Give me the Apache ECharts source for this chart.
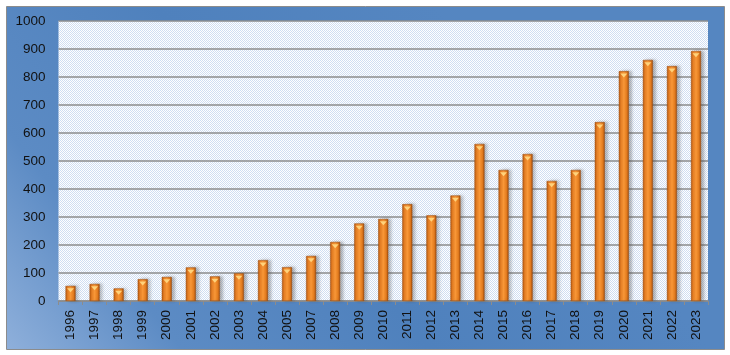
<!DOCTYPE html>
<html>
<head>
<meta charset="utf-8">
<script src="https://cdn.jsdelivr.net/npm/echarts@6/dist/echarts.min.js"></script>
<style>
html,body{margin:0;padding:0;background:#ffffff;}
#chart{width:730px;height:355px;}
</style>
</head>
<body>
<div id="chart"></div>
<script>
const years = ['1996','1997','1998','1999','2000','2001','2002','2003','2004','2005','2007','2008','2009','2010','2011','2012','2013','2014','2015','2016','2017','2018','2019','2020','2021','2022','2023'];
const values = [54, 61, 45, 78, 86, 120, 88, 99, 146, 121, 161, 211, 277, 293, 346, 306, 377, 561, 468, 525, 429, 468, 639, 821, 861, 839, 893];
const yTicks = [0, 100, 200, 300, 400, 500, 600, 700, 800, 900, 1000];

// dotted plot-area pattern
const tile = document.createElement('canvas');
tile.width = 2; tile.height = 2;
const tctx = tile.getContext('2d');
tctx.fillStyle = '#ffffff'; tctx.fillRect(0, 0, 2, 2);
tctx.fillStyle = '#d0def2';
tctx.fillRect(0, 0, 1, 1); tctx.fillRect(1, 1, 1, 1);

const chart = echarts.init(document.getElementById('chart'), null, {renderer: 'canvas'});
const barGrad = new echarts.graphic.LinearGradient(0, 0, 1, 0, [
  {offset: 0, color: '#b85a12'},
  {offset: 0.25, color: '#f08526'},
  {offset: 0.5, color: '#fd9a38'},
  {offset: 0.8, color: '#e07a1e'},
  {offset: 1, color: '#a24c0c'}
]);

chart.setOption({
  animation: false,
  backgroundColor: '#ffffff',
  graphic: [
    {
      type: 'rect', z: -100, silent: true,
      shape: {x: 6.5, y: 6.5, width: 718, height: 343},
      style: {
        fill: new echarts.graphic.LinearGradient(0, 1, 0.6, 0, [
          {offset: 0, color: '#8fb0db'},
          {offset: 0.25, color: '#5c8bc4'},
          {offset: 0.6, color: '#4f81bd'},
          {offset: 1, color: '#5586c1'}
        ]),
        stroke: '#8c8c8c', lineWidth: 1
      }
    }
  ],
  grid: {
    left: 58.5, right: 22, top: 21, bottom: 54,
    show: true,
    backgroundColor: {image: tile, repeat: 'repeat'},
    borderWidth: 0
  },
  xAxis: {
    type: 'category',
    data: years,
    axisLine: {show: true, lineStyle: {color: '#8c8c8c', width: 1.5}},
    axisTick: {show: true, alignWithLabel: false, length: 4, lineStyle: {color: '#8c8c8c'}},
    axisLabel: {
      rotate: 90, interval: 0, margin: 9,
      color: '#111111', fontFamily: 'Liberation Sans, Arial, sans-serif', fontSize: 13.5
    }
  },
  yAxis: {
    type: 'value',
    min: yTicks[0], max: yTicks[yTicks.length - 1], interval: 100,
    axisLine: {show: false},
    axisTick: {show: false},
    axisLabel: {
      margin: 13, color: '#111111',
      fontFamily: 'Liberation Sans, Arial, sans-serif', fontSize: 13.5,
      formatter: function (v) { return String(v); }
    },
    splitLine: {show: true, lineStyle: {color: '#8c8c8c', width: 1.5}}
  },
  series: [
    {
      type: 'bar',
      data: values,
      barWidth: 10,
      itemStyle: {
        color: barGrad,
        borderColor: '#9a4a0c', borderWidth: 0.5,
        shadowColor: 'rgba(60,60,60,0.35)', shadowBlur: 3, shadowOffsetX: 3, shadowOffsetY: 0
      },
      z: 3
    },
    {
      type: 'pictorialBar',
      data: values,
      symbol: 'triangle',
      symbolRotate: 180,
      symbolSize: [7, 4],
      symbolPosition: 'end',
      symbolOffset: [0, '60%'],
      itemStyle: {color: '#ffd27a'},
      z: 4,
      silent: true
    }
  ]
});
</script>
</body>
</html>
